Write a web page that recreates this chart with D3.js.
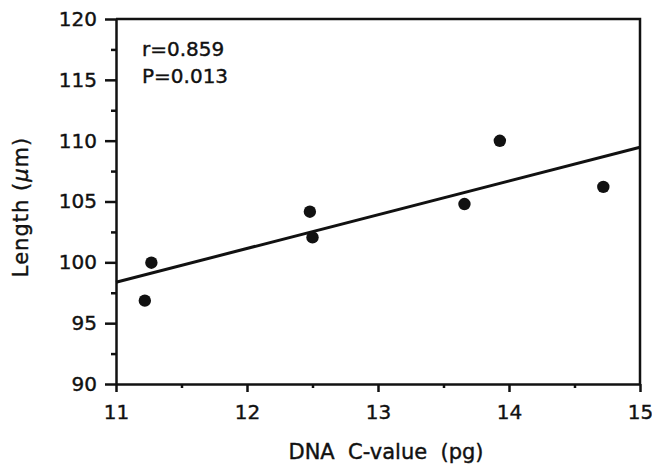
<!DOCTYPE html>
<html>
<head>
<meta charset="utf-8">
<script src="https://cdn.jsdelivr.net/npm/d3@7"></script>
<style>
    body { margin: 0; background: #fff; }
    svg { display: block; }
    .axis text { font-family: "DejaVu Sans", sans-serif; font-size: 20px; fill: #111; stroke: #111; stroke-width: 0.4; }
    .axis path, .axis line { stroke: #111; stroke-width: 2.5; }
    .lbl { font-family: "DejaVu Sans", sans-serif; font-size: 20px; fill: #111; stroke: #111; stroke-width: 0.4; }
    .ttl { font-size: 21px; }
</style>
</head>
<body>
<div id="svg-container"></div>
<script>

// DNA C-value (pg) vs length (um)
const cValues = [11.22, 11.27, 12.48, 12.50, 13.66, 13.93, 14.72];
const lengths = [96.85, 99.97, 104.16, 102.05, 104.79, 109.99, 106.2];

const xTicks = [11, 12, 13, 14, 15];
const xMinor = [11.5, 12.5, 13.5, 14.5];
const yTicks = [90, 95, 100, 105, 110, 115, 120];
const yMinor = [92.5, 97.5, 102.5, 107.5, 112.5, 117.5];

const statLines = ["r=0.859", "P=0.013"];

const W = 652, H = 465;
const margin = {top: 19, right: 12, bottom: 81, left: 116};

const buildChart = () => {

    let svg = d3.select("#svg-container")
        .append("svg")
        .attr("width", W)
        .attr("height", H);

    let x = d3.scaleLinear().domain([11, 15]).range([margin.left, W - margin.right]);
    let y = d3.scaleLinear().domain([90, 120]).range([H - margin.bottom, margin.top]);

    // frame (top + right)
    svg.append("path")
        .attr("d", `M${x(11)},${y(120)}H${x(15)}V${y(90)}`)
        .attr("fill", "none")
        .attr("stroke", "#111")
        .attr("stroke-width", 2.5);

    // minor ticks
    svg.append("g")
        .attr("class", "axis")
        .attr("transform", `translate(0,${y(90)})`)
        .call(d3.axisBottom(x).tickValues(xMinor).tickSize(4).tickFormat(""))
        .select(".domain").remove();

    svg.append("g")
        .attr("class", "axis")
        .attr("transform", `translate(${x(11)},0)`)
        .call(d3.axisLeft(y).tickValues(yMinor).tickSize(5).tickFormat(""))
        .select(".domain").remove();

    // major axes
    svg.append("g")
        .attr("class", "axis")
        .attr("transform", `translate(0,${y(90)})`)
        .call(d3.axisBottom(x).tickValues(xTicks).tickSize(8).tickSizeOuter(0).tickPadding(13).tickFormat(d3.format("d")));

    svg.append("g")
        .attr("class", "axis")
        .attr("transform", `translate(${x(11)},0)`)
        .call(d3.axisLeft(y).tickValues(yTicks).tickSize(11).tickSizeOuter(0).tickPadding(8).tickFormat(d3.format("d")));

    // least squares fit
    let mx = d3.mean(cValues), my = d3.mean(lengths);
    let sxy = d3.sum(cValues, (v, i) => (v - mx) * (lengths[i] - my));
    let sxx = d3.sum(cValues, v => (v - mx) * (v - mx));
    let slope = sxy / sxx;
    let icpt = my - slope * mx;

    svg.append("line")
        .attr("x1", x(11)).attr("y1", y(icpt + slope * 11))
        .attr("x2", x(15)).attr("y2", y(icpt + slope * 15))
        .attr("stroke", "#111")
        .attr("stroke-width", 3);

    svg.append("g")
        .selectAll("circle")
        .data(cValues)
        .enter()
        .append("circle")
        .attr("cx", d => x(d))
        .attr("cy", (d, i) => y(lengths[i]))
        .attr("r", 6.2)
        .attr("fill", "#111");

    svg.append("g")
        .selectAll("text")
        .data(statLines)
        .enter()
        .append("text")
        .attr("class", "lbl")
        .attr("x", 142)
        .attr("y", (d, i) => 56 + i * 27)
        .text(d => d);

    svg.append("text")
        .attr("class", "lbl ttl")
        .attr("x", 386)
        .attr("y", 459)
        .attr("text-anchor", "middle")
        .attr("xml:space", "preserve")
        .text("DNA  C-value  (pg)");

    let yt = svg.append("text")
        .attr("class", "lbl ttl")
        .attr("transform", "translate(28,207) rotate(-90)")
        .attr("text-anchor", "middle")
        .attr("letter-spacing", "1px");
    yt.append("tspan").text("Length (");
    yt.append("tspan").attr("font-style", "italic").text("μ");
    yt.append("tspan").text("m)");
};

buildChart();
</script>
</body>
</html>
